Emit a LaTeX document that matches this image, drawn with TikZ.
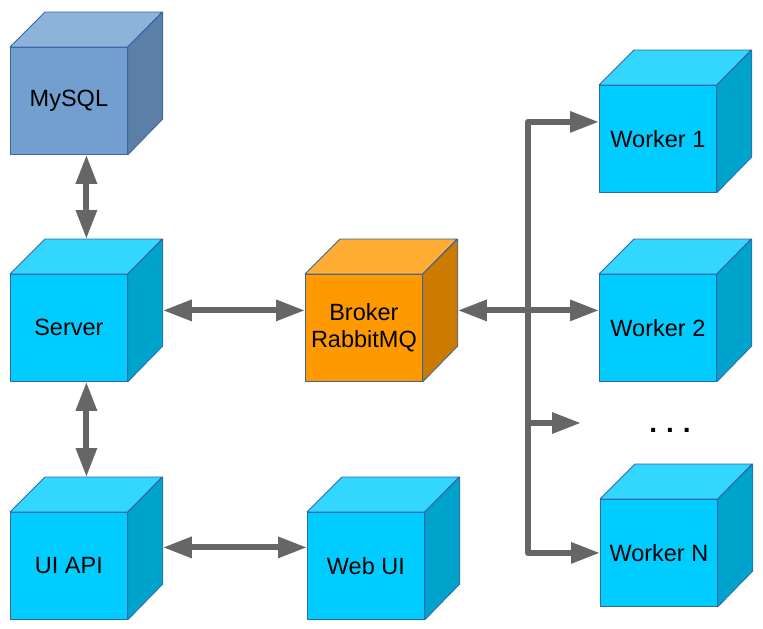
\documentclass[tikz,border=0pt]{standalone}
\usepackage{fontspec}
\setmainfont{Liberation Sans}
\usetikzlibrary{arrows.meta}
\definecolor{bfront}{HTML}{00CCFF}
\definecolor{btop}{HTML}{33D6FF}
\definecolor{bside}{HTML}{00A3CC}
\definecolor{mfront}{HTML}{729FCF}
\definecolor{mtop}{HTML}{8EB3DB}
\definecolor{mside}{HTML}{5B7FA6}
\definecolor{ofront}{HTML}{FF9900}
\definecolor{otop}{HTML}{FFAD33}
\definecolor{oside}{HTML}{CC7A00}
\definecolor{edgec}{HTML}{3465A4}
\definecolor{arrc}{HTML}{666666}
\tikzset{
  face/.style={draw=edgec, line width=0.8pt, line join=round},
  cubefront/.style={face, minimum width=117pt, minimum height=107pt, inner sep=0pt,
     align=center, font=\fontsize{23.5}{27}\selectfont, anchor=north west},
  conn/.style={draw=arrc, line width=6pt, line join=round},
  tip/.tip={Triangle[length=29pt,width=20pt]}
}
% \cubebox{name}{x}{y}{front}{top}{side}{text}
\newcommand{\cubebox}[7]{%
  \node[cubefront, fill=#4] (#1) at (#2,#3) {#7};
  \filldraw[face, fill=#5] (#1.north west) -- ++(35pt,35pt) -- ++(117pt,0pt) -- (#1.north east) -- cycle;
  \filldraw[face, fill=#6] (#1.north east) -- ++(35pt,35pt) -- ++(0pt,-107pt) -- (#1.south east) -- cycle;
}
\begin{document}
\begin{tikzpicture}[x=1pt,y=-1pt]
\useasboundingbox (0,0) rectangle (763,629);
\cubebox{mysql}{10}{47}{mfront}{mtop}{mside}{\raisebox{-2pt}{MySQL}}
\cubebox{server}{10}{274}{bfront}{btop}{bside}{Server}
\cubebox{uiapi}{10}{512}{bfront}{btop}{bside}{UI API}
\cubebox{broker}{305}{274}{ofront}{otop}{oside}{Broker\\RabbitMQ}
\cubebox{webui}{307}{512}{bfront}{btop}{bside}{Web UI}
\cubebox{worker1}{599}{85}{bfront}{btop}{bside}{Worker 1}
\cubebox{worker2}{599}{274}{bfront}{btop}{bside}{Worker 2}
\cubebox{workerN}{600}{499}{bfront}{btop}{bside}{Worker N}
\node[font=\fontsize{28}{30}\selectfont\bfseries, anchor=base, inner sep=0pt] (dots) at (670,432.5) {.\hspace{9pt}.\hspace{9pt}.};
\coordinate (j) at (528,310);
\coordinate (dotarrow) at (581,423);
% connectors
\draw[conn, tip-tip] ([xshift=17.5pt]mysql.south) -- ([xshift=17.5pt,yshift=35pt]server.north);
\draw[conn, tip-tip] ([xshift=17.5pt]server.south) -- ([xshift=17.5pt,yshift=35pt]uiapi.north);
\draw[conn, tip-tip] ([xshift=35pt,yshift=17.5pt]server.east) -- ([yshift=17.5pt]broker.west);
\draw[conn, tip-tip] ([xshift=35pt,yshift=18.5pt]uiapi.east) -- ([yshift=18.5pt]webui.west);
\draw[conn, tip-tip] ([xshift=35pt,yshift=17.5pt]broker.east) -- ([yshift=17.5pt]worker2.west);
\draw[conn, -tip] (j) |- ([yshift=17pt]worker1.west);
\draw[conn, -tip] (j) |- (workerN.west);
\draw[conn, -tip] (j |- dotarrow) -- (dotarrow);
\end{tikzpicture}
\end{document}
